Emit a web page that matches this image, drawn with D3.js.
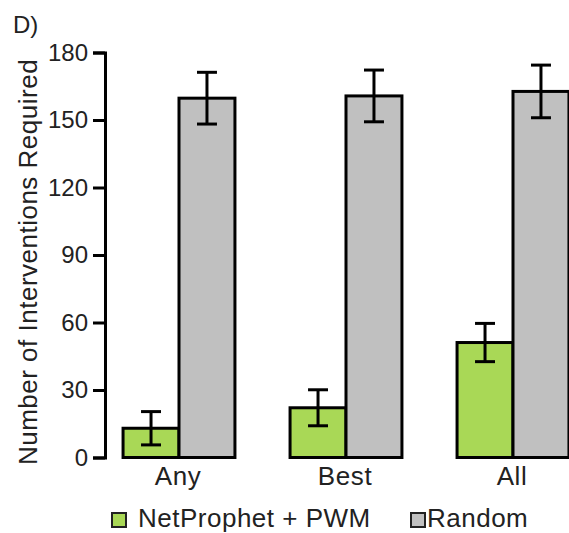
<!DOCTYPE html>
<html>
<head>
<meta charset="utf-8">
<script src="https://cdn.jsdelivr.net/npm/d3@7"></script>
<style>
  html, body { margin: 0; padding: 0; background: #fff; }
  svg { display: block; font-family: "Liberation Sans", Arial, Helvetica, sans-serif; }
</style>
</head>
<body>
<svg id="chart" width="569" height="533"></svg>
<script>
const categories = ["Any", "Best", "All"];
const seriesNames = ["NetProphet + PWM", "Random"];
const netprophetMean = [13.0, 22.1, 51.1];
const netprophetErr = [7.4, 8.0, 8.5];
const randomMean = [159.7, 160.7, 162.7];
const randomErr = [11.5, 11.5, 11.7];
const yTicks = [0, 30, 60, 90, 120, 150, 180];
const colors = ["#a9d856", "#c0c0c0"];

const svg = d3.select("#chart");

const y = d3.scaleLinear().domain([0, 180]).range([457.5, 52.5]);
const x0 = d3.scaleBand().domain(categories).range([95.5, 596.5]).paddingInner(0.33).paddingOuter(0.165);
const x1 = d3.scaleBand().domain(seriesNames).range([0, x0.bandwidth()]);

const data = categories.map((c, i) => ({
  cat: c,
  vals: [
    { s: seriesNames[0], v: netprophetMean[i], e: netprophetErr[i], col: colors[0] },
    { s: seriesNames[1], v: randomMean[i], e: randomErr[i], col: colors[1] }
  ]
}));

const groups = svg.append("g").selectAll("g").data(data).join("g")
  .attr("transform", d => `translate(${x0(d.cat)},0)`);

groups.selectAll("rect").data(d => d.vals).join("rect")
  .attr("x", d => x1(d.s))
  .attr("y", d => y(d.v))
  .attr("width", x1.bandwidth())
  .attr("height", d => y(0) - y(d.v))
  .attr("fill", d => d.col)
  .attr("stroke", "#000")
  .attr("stroke-width", 3);

const capW = 20;
const eb = groups.selectAll("g.err").data(d => d.vals).join("g").attr("class", "err");
eb.append("line")
  .attr("x1", d => x1(d.s) + x1.bandwidth() / 2)
  .attr("x2", d => x1(d.s) + x1.bandwidth() / 2)
  .attr("y1", d => y(d.v + d.e))
  .attr("y2", d => y(d.v - d.e))
  .attr("stroke", "#000").attr("stroke-width", 3);
eb.append("line")
  .attr("x1", d => x1(d.s) + x1.bandwidth() / 2 - capW / 2)
  .attr("x2", d => x1(d.s) + x1.bandwidth() / 2 + capW / 2)
  .attr("y1", d => y(d.v + d.e)).attr("y2", d => y(d.v + d.e))
  .attr("stroke", "#000").attr("stroke-width", 3);
eb.append("line")
  .attr("x1", d => x1(d.s) + x1.bandwidth() / 2 - capW / 2)
  .attr("x2", d => x1(d.s) + x1.bandwidth() / 2 + capW / 2)
  .attr("y1", d => y(d.v - d.e)).attr("y2", d => y(d.v - d.e))
  .attr("stroke", "#000").attr("stroke-width", 3);

// Y axis
const yAxis = svg.append("g")
  .attr("transform", "translate(105,0)")
  .call(d3.axisLeft(y).tickValues(yTicks).tickSize(12).tickSizeOuter(12).tickPadding(5));
yAxis.select(".domain").attr("stroke", "#000").attr("stroke-width", 3);
yAxis.selectAll(".tick line").attr("stroke", "#000").attr("stroke-width", 3);
yAxis.selectAll(".tick text").attr("font-size", 24).attr("fill", "#222")
  .attr("font-family", "Liberation Sans, Arial, sans-serif");

// X labels
svg.append("g").selectAll("text").data(categories).join("text")
  .attr("x", d => x0(d) + x0.bandwidth() / 2 - 1)
  .attr("y", 485)
  .attr("text-anchor", "middle")
  .attr("font-size", 26)
  .attr("letter-spacing", 0.6)
  .attr("fill", "#222")
  .text(d => d);

// Y title
svg.append("text")
  .attr("transform", "translate(37,262) rotate(-90)")
  .attr("text-anchor", "middle")
  .attr("font-size", 26)
  .attr("letter-spacing", 0.5)
  .attr("fill", "#222")
  .text("Number of Interventions Required");

// Panel label
svg.append("text")
  .attr("x", 13).attr("y", 33)
  .attr("font-size", 24)
  .attr("fill", "#222")
  .text("D)");

// Legend
const legendPos = [{ sx: 112, tx: 138 }, { sx: 411, tx: 427 }];
const leg = svg.append("g").selectAll("g").data(seriesNames).join("g");
leg.append("rect")
  .attr("x", (d, i) => legendPos[i].sx)
  .attr("y", 513)
  .attr("width", 14).attr("height", 14)
  .attr("fill", (d, i) => colors[i])
  .attr("stroke", "#222").attr("stroke-width", 2);
leg.append("text")
  .attr("x", (d, i) => legendPos[i].tx)
  .attr("y", 527)
  .attr("font-size", 26)
  .attr("letter-spacing", 0.5)
  .attr("fill", "#222")
  .text(d => d);
</script>
</body>
</html>
